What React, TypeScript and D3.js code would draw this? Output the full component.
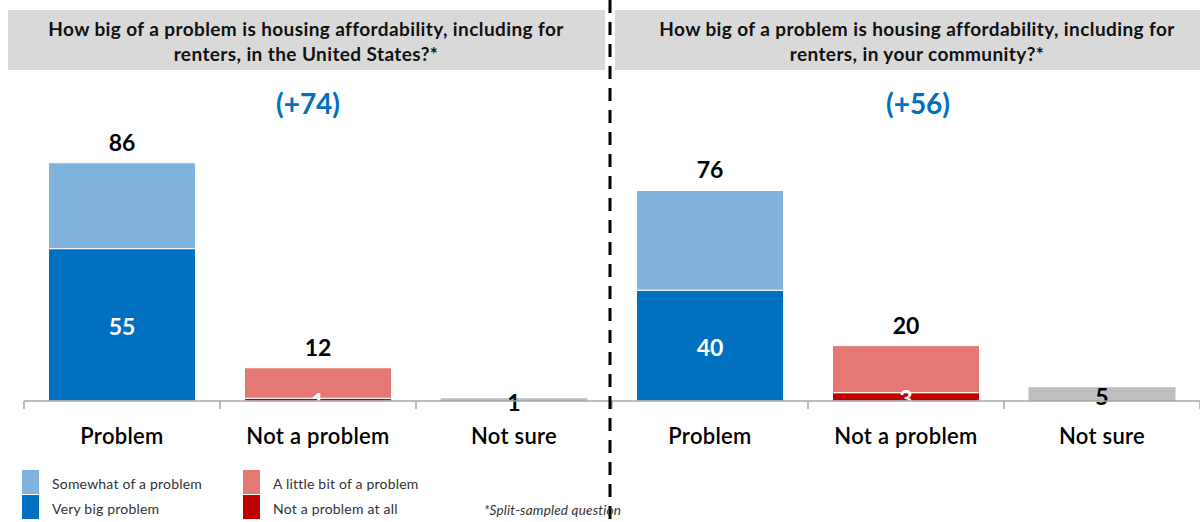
import React from "react";
import * as d3 from "d3";

const categories = ["Problem", "Not a problem", "Not sure"];
const panelTitles = [
  ["How big of a problem is housing affordability, including for", "renters, in the United States?*"],
  ["How big of a problem is housing affordability, including for", "renters, in your community?*"],
];
// per panel: [US, community]
const veryBigProblem = [55, 40];
const somewhatProblem = [31, 36];
const notAtAll = [1, 3];
const littleBit = [11, 17];
const notSure = [1, 5];

const legendItems = [
  { label: "Somewhat of a problem", color: "#7FB3DC" },
  { label: "Very big problem", color: "#0070C0" },
  { label: "A little bit of a problem", color: "#E57872" },
  { label: "Not a problem at all", color: "#C00000" },
];

const W = 1200;
const H = 522;
const FONT = "Lato, 'Open Sans', sans-serif";

export default function App() {
  const allCats = d3.range(6).map(String);
  const x = d3.scaleBand<string>().domain(allCats).range([24, 1200]).paddingInner(0.25).paddingOuter(0.125);
  const y = d3.scaleLinear().domain([0, 100]).range([401, 124]);
  const colorsTop = ["#7FB3DC", "#E57872"];
  const colorsBottom = ["#0070C0", "#C00000"];
  const bw = x.bandwidth();
  const step = x.step();

  const marks: React.ReactNode[] = [];
  [0, 1].forEach((p) => {
    const bottoms = [veryBigProblem[p], notAtAll[p]];
    const tops = [somewhatProblem[p], littleBit[p]];
    [0, 1].forEach((c) => {
      const key = String(p * 3 + c);
      const x0 = x(key)!;
      const b = bottoms[c];
      const t = tops[c];
      const total = b + t;
      marks.push(
        <rect key={`b${key}`} x={x0} y={y(b)} width={bw} height={y(0) - y(b)} fill={colorsBottom[c]} stroke="#fff" strokeWidth={1} />,
        <rect key={`t${key}`} x={x0} y={y(total)} width={bw} height={y(b) - y(total)} fill={colorsTop[c]} stroke="#fff" strokeWidth={1} />,
        <text key={`lb${key}`} x={x0 + bw / 2} y={(y(0) + y(b)) / 2 + 1} textAnchor="middle" dominantBaseline="central" fill="#fff" fontWeight={700} fontSize={23} fontFamily={FONT}>{b}</text>,
        <text key={`lt${key}`} x={x0 + bw / 2} y={y(total) - 21} textAnchor="middle" dominantBaseline="central" fill="#000" fontWeight={700} fontSize={23} fontFamily={FONT}>{total}</text>
      );
    });
    const key = String(p * 3 + 2);
    const x0 = x(key)!;
    const v = notSure[p];
    marks.push(
      <rect key={`ns${key}`} x={x0} y={y(v)} width={bw} height={y(0) - y(v)} fill="#BFBFBF" />,
      <text key={`lns${key}`} x={x0 + bw / 2} y={(y(0) + y(v)) / 2 + 2} textAnchor="middle" dominantBaseline="central" fill="#000" fontWeight={700} fontSize={23} fontFamily={FONT}>{v}</text>
    );
    const net = veryBigProblem[p] + somewhatProblem[p] - notAtAll[p] - littleBit[p];
    const cx = p === 0 ? 308 : 918;
    marks.push(
      <text key={`net${p}`} x={cx} y={103} textAnchor="middle" dominantBaseline="central" fill="#0070C0" fontWeight={700} fontSize={28} fontFamily={FONT}>{`(+${net})`}</text>
    );
  });

  const ticks = d3.range(7).map((i) => 24 + i * step);

  return (
    <svg width={W} height={H} style={{ position: "absolute", left: 0, top: 0, background: "#fff" }} fontFamily={FONT}>
      {/* headers */}
      <rect x={8} y={10} width={597} height={60} fill="#D9D9D9" />
      <rect x={615} y={10} width={585} height={60} fill="#D9D9D9" />
      {panelTitles.map((lines, p) =>
        lines.map((ln, i) => (
          <text key={`h${p}${i}`} x={p === 0 ? 306 : 917} y={28 + i * 25} textAnchor="middle" dominantBaseline="central" fontWeight={700} fontSize={19} letterSpacing={0.4} fill="#111">{ln}</text>
        ))
      )}
      {marks}
      {/* axis */}
      <line x1={24} x2={1200} y1={401} y2={401} stroke="#A6A6A6" strokeWidth={1.5} />
      {ticks.map((t, i) => (
        <line key={`tk${i}`} x1={t} x2={t} y1={401} y2={409} stroke="#A6A6A6" strokeWidth={1.5} />
      ))}
      {allCats.map((k, i) => (
        <text key={`c${k}`} x={x(k)! + bw / 2} y={435} textAnchor="middle" dominantBaseline="central" fontSize={22} fontWeight={600} letterSpacing={0.3} fill="#000">{categories[i % 3]}</text>
      ))}
      {/* divider */}
      <line x1={610} x2={610} y1={0} y2={H} stroke="#000" strokeWidth={3} strokeDasharray="13 9" />
      {/* legend */}
      {legendItems.map((it, i) => {
        const col = Math.floor(i / 2);
        const row = i % 2;
        const lx = col === 0 ? 22 : 243;
        const ly = 470 + row * 25;
        return (
          <g key={`lg${i}`}>
            <rect x={lx} y={ly} width={17} height={24} fill={it.color} />
            <text x={lx + 30} y={ly + 13} dominantBaseline="central" fontSize={14} letterSpacing={0.2} fill="#333">{it.label}</text>
          </g>
        );
      })}
      <text x={484} y={510} dominantBaseline="central" fontSize={13.5} fontStyle="italic" letterSpacing={0.2} fill="#333">*Split-sampled question</text>
    </svg>
  );
}
